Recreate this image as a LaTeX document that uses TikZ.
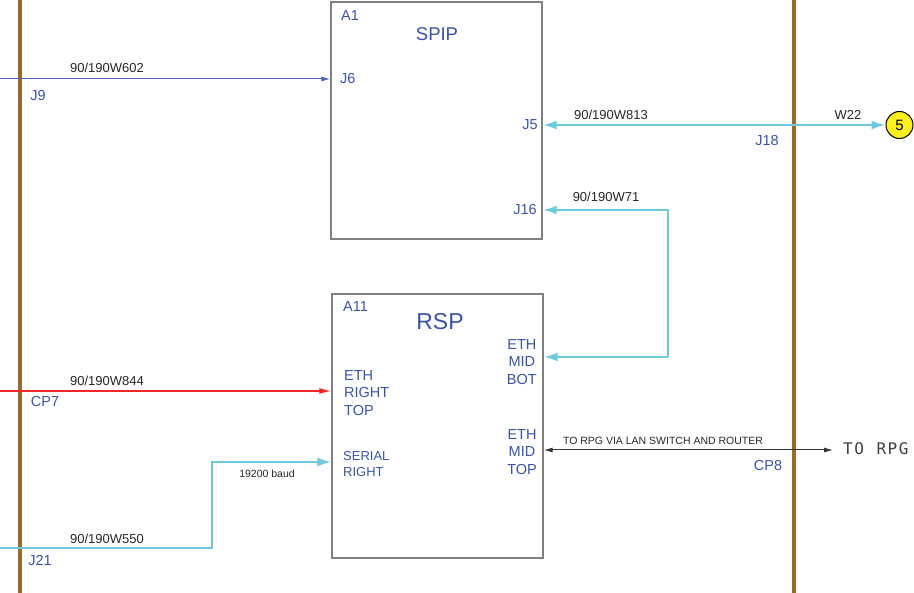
\documentclass[tikz,border=0pt]{standalone}
\usepackage{fontspec}
\setmainfont{Liberation Sans}
\newfontfamily\rpgfont{DejaVu Sans Mono}
\usetikzlibrary{arrows.meta}
\definecolor{bar}{HTML}{9A6A2C}
\definecolor{lbl}{HTML}{3A52A8}
\definecolor{cyanw}{HTML}{6CCADB}
\definecolor{bluew}{HTML}{4A66B4}
\definecolor{redw}{HTML}{F02828}
\definecolor{boxc}{HTML}{808080}
\definecolor{offpage}{HTML}{FFF01E}
\tikzset{
  unitbox/.style={draw=boxc,line width=1.4pt,minimum width=211pt,inner sep=0pt},
  bluelbl/.style={text=lbl,font=\fontsize{14.5}{17}\selectfont,inner sep=0pt},
  wirelbl/.style={text=black!85,font=\fontsize{13}{15}\selectfont,inner sep=0pt},
  smalllbl/.style={text=black!85,font=\fontsize{10.5}{12}\selectfont,inner sep=0pt},
  cyanwire/.style={draw=cyanw,line width=2.4pt,arrows={-Latex[length=14pt,width=9pt]}},
  cyanboth/.style={draw=cyanw,line width=2.4pt,arrows={Latex[length=14pt,width=9pt]-Latex[length=14pt,width=9pt]}},
  bluewire/.style={draw=bluew,line width=1pt,arrows={-Latex[length=9pt,width=5pt]}},
  redwire/.style={draw=redw,line width=1.3pt,arrows={-Latex[length=12pt,width=6pt]}},
  blackboth/.style={draw=black!80,line width=1pt,arrows={Latex[length=9pt,width=5pt]-Latex[length=9pt,width=5pt]}},
  busbar/.style={draw=bar,line width=4pt}
}
\begin{document}
\begin{tikzpicture}[x=1pt,y=-1pt]
\useasboundingbox (0,0) rectangle (914,593);
% vertical bars
\coordinate (barLt) at (20,0); \coordinate (barLb) at (20,593);
\coordinate (barRt) at (794,0); \coordinate (barRb) at (794,593);
\draw[busbar] (barLt) -- (barLb);
\draw[busbar] (barRt) -- (barRb);
% boxes
\node[unitbox,minimum height=237pt] (spip) at (436.5,120.5) {};
\node[unitbox,minimum height=264pt] (rsp) at (437.5,426) {};
% box labels
\node[bluelbl,anchor=west] (a1) at (341,16) {A1};
\node[bluelbl,font=\fontsize{18.5}{20}\selectfont] (spipt) at (437,34) {SPIP};
\node[bluelbl,anchor=west] (a11) at (343,307) {A11};
\node[bluelbl,font=\fontsize{23}{25}\selectfont] (rspt) at (440,322) {RSP};
\node[bluelbl,anchor=west] (j6) at (340,79) {J6};
\node[bluelbl,anchor=east] (j5) at (538,125) {J5};
\node[bluelbl,anchor=east] (j16) at (537,210) {J16};
\node[bluelbl,anchor=east,align=center,font=\fontsize{14.5}{17.2}\selectfont] (ethbot) at (537,362) {ETH\\MID\\BOT};
\node[bluelbl,anchor=west,align=left,font=\fontsize{14.5}{17.2}\selectfont] (ethright) at (344,393) {ETH\\RIGHT\\TOP};
\node[bluelbl,anchor=west,align=left,font=\fontsize{13}{16}\selectfont] (serial) at (343,464) {SERIAL\\RIGHT};
\node[bluelbl,anchor=east,align=center,font=\fontsize{14.5}{17.2}\selectfont] (ethtop) at (537,452) {ETH\\MID\\TOP};
% connector labels
\node[bluelbl] (j9) at (38,96) {J9};
\node[bluelbl] (cp7) at (45,402) {CP7};
\node[bluelbl] (j21) at (40,561) {J21};
\node[bluelbl] (j18) at (767,141) {J18};
\node[bluelbl] (cp8) at (768,466) {CP8};
\node[wirelbl] (w602) at (107,68) {90/190W602};
\node[wirelbl] (w844) at (107,381) {90/190W844};
\node[wirelbl] (w550) at (107,539) {90/190W550};
\node[wirelbl] (w813) at (611,115) {90/190W813};
\node[wirelbl] (w71) at (606,197) {90/190W71};
\node[wirelbl] (w22) at (848,115) {W22};
\node[smalllbl] (baud) at (267,474) {19200 baud};
\node[smalllbl] (lan) at (663,441) {TO RPG VIA LAN SWITCH AND ROUTER};
\node[inner sep=0pt,anchor=west,text=black!75,font=\rpgfont\fontsize{16}{18}\selectfont] (torpg) at (843,449) {T\kern1.5ptO\kern1.5pt\ \kern1.5ptR\kern1.5ptP\kern1.5ptG};
% off-page circle
\node[circle,draw=black,fill=offpage,line width=1pt,minimum size=27pt,inner sep=0pt,font=\fontsize{15}{17}\selectfont] (c5) at (899.5,125) {5};
% connector end coordinates
\coordinate (s602) at (0,79);
\coordinate (s844) at (0,391);
\coordinate (s550) at (0,548);
\coordinate (k550a) at (212,548);
\coordinate (k550b) at (212,462);
\coordinate (k71a) at (668,210);
\coordinate (k71b) at (668,357);
\coordinate (rpgend) at (833,450);
% connectors
\draw[bluewire] (s602) -- (s602 -| spip.west);
\draw[redwire] (s844) -- (s844 -| rsp.west);
\draw[cyanwire] (s550) -- (k550a) -- (k550b) -- (k550b -| rsp.west);
\draw[cyanboth] (spip.east |- c5) -- (c5.west);
\draw[cyanwire] (k71b) -- (k71b -| rsp.east);
\draw[cyanwire] (k71b) -- (k71a) -- (k71a -| spip.east);
\draw[blackboth] (rsp.east |- rpgend) -- (rpgend);
\end{tikzpicture}
\end{document}
